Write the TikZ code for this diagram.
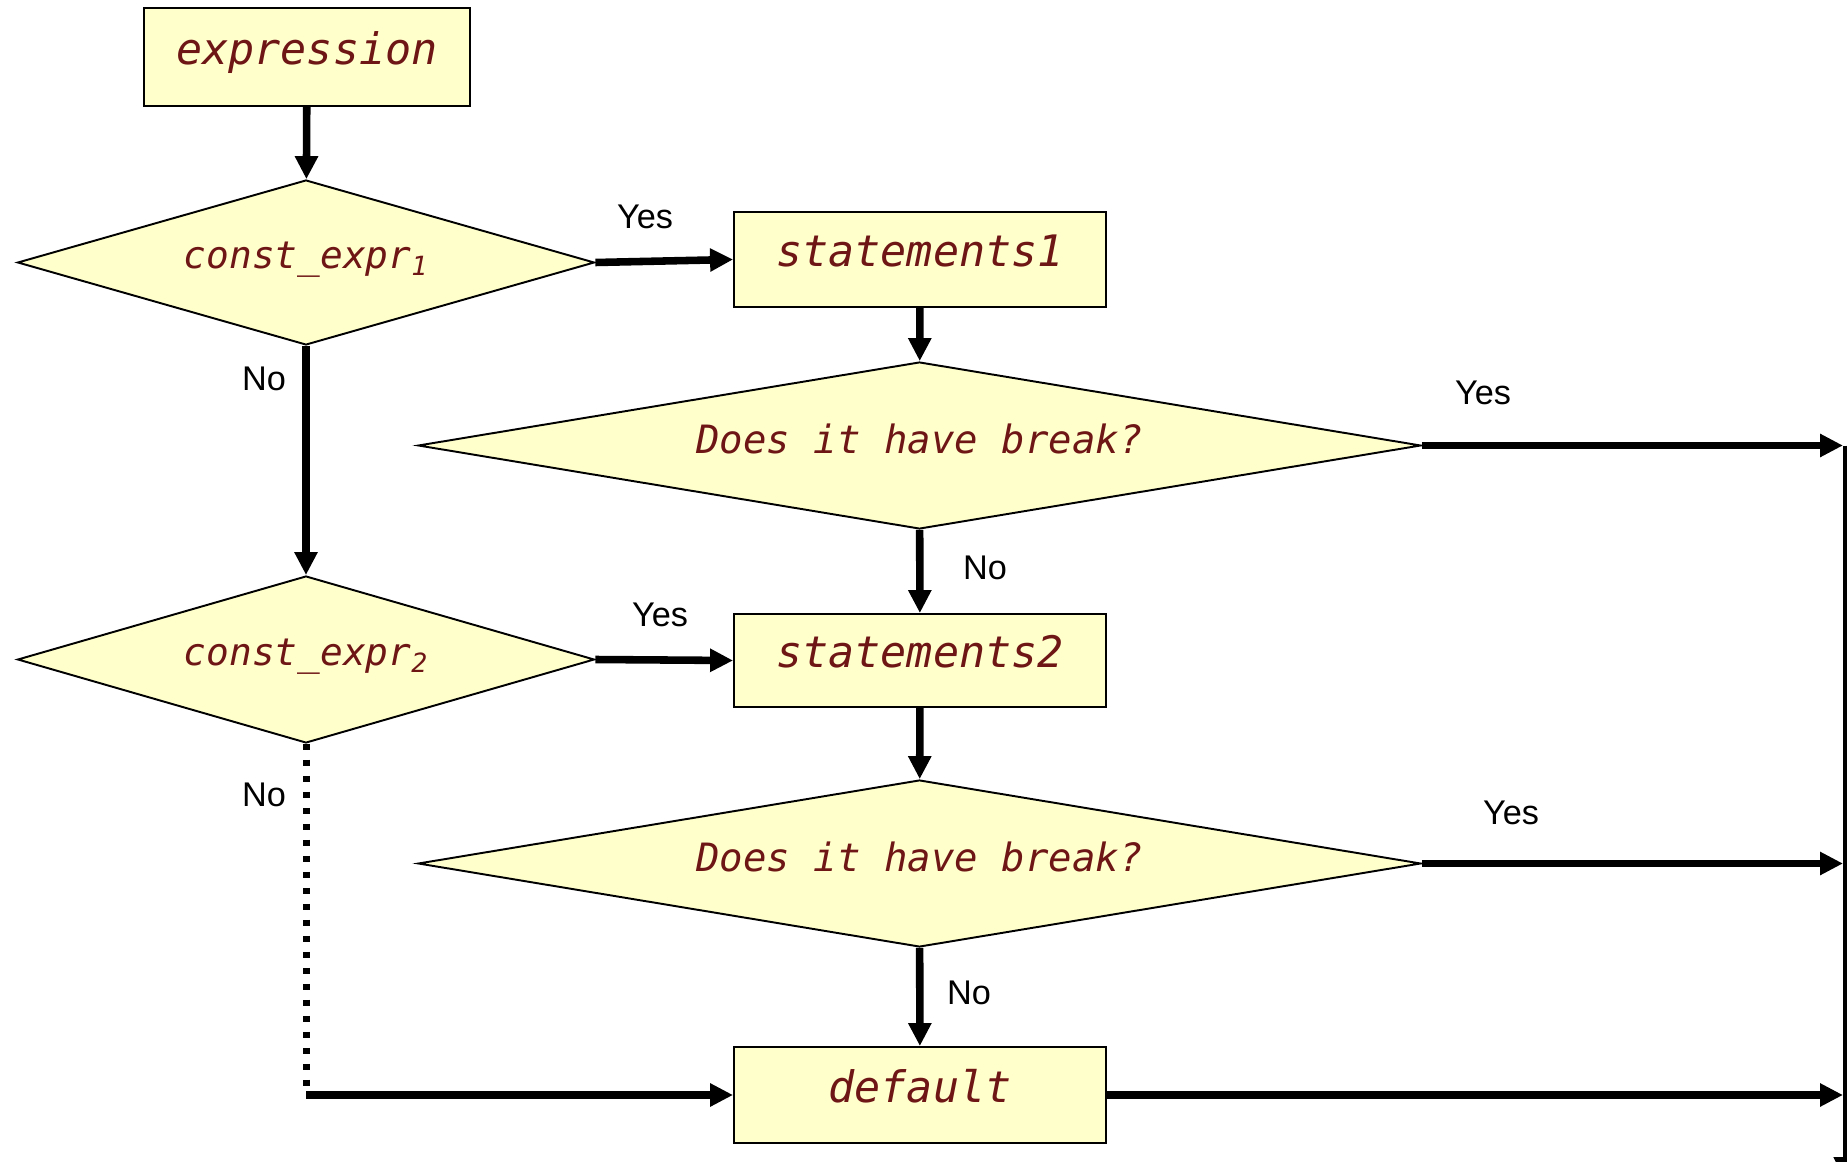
\documentclass[tikz,border=0pt]{standalone}
\usepackage{fontspec}
\setmainfont{Liberation Sans}
\newfontfamily\codefont{DejaVu Sans Mono}
\usepackage{tikz}
\usetikzlibrary{shapes,arrows.meta,calc}
\definecolor{boxfill}{RGB}{255,255,204}
\definecolor{codetext}{RGB}{110,22,22}
\tikzset{
  block/.style={
    draw,
    line width=1.1pt,
    fill=boxfill,
    text=codetext,
    shape=rectangle,
    inner sep=0pt,
    text height=16pt,
    text depth=8pt,
    minimum width=7.44cm,
    minimum height=1.9cm,
    font=\codefont\itshape\fontsize{24.7pt}{28pt}\selectfont
  },
  test/.style={
    draw,
    line width=1.1pt,
    fill=boxfill,
    text=codetext,
    shape=diamond,
    inner sep=0pt,
    aspect=6,
    text height=14pt,
    text depth=5pt,
    minimum width=20.06cm,
    minimum height=3.34cm,
    font=\codefont\itshape\fontsize{22.2pt}{25pt}\selectfont
  },
  casetest/.style={
    test,
    aspect=3.5,
    text height=12pt,
    text depth=5pt,
    minimum width=11.54cm,
    minimum height=3.3cm,
    font=\codefont\itshape\fontsize{21.5pt}{24pt}\selectfont
  },
  flow/.style={
    line width=4.3pt,
    -{Triangle[length=0.46cm,width=0.44cm]}
  },
  answer/.style={
    font=\fontsize{19.5pt}{23pt}\selectfont
  }
}

\begin{document}
\begin{tikzpicture}[x=0.02cm,y=-0.02cm]
  \useasboundingbox (0,0) rectangle (1847,1162);

  % left column: the switch value and the case tests
  \node[block, minimum width=6.52cm, minimum height=1.96cm] (expr) at (307,57) {expression};
  \node[casetest] (case1) at (306,262.5) {const\_expr\textsubscript{1}};
  \node[casetest, minimum height=3.34cm] (case2) at (306,659.5) {const\_expr\textsubscript{2}};

  % middle column: bodies and break tests
  \node[block] (stmt1) at (920,259.5) {statements1};
  \node[test] (brk1) at (919.5,445.5) {Does it have break?};
  \node[block, minimum height=1.86cm] (stmt2) at (920,660.5) {statements2};
  \node[test] (brk2) at (919.5,863.5) {Does it have break?};
  \node[block, minimum height=1.92cm] (dflt) at (920,1095) {default};

  % exit rail on the right
  \coordinate (rail) at (1843,0);
  \coordinate (railtop) at (1845,445.5);
  \coordinate (railend) at (1845,1180);
  \coordinate (corner) at (case2.south |- dflt.west);

  \draw[flow] (expr) -- (case1);
  \draw[flow] (case1.east) -- (stmt1.west);
  \draw[flow] (case1) -- (case2);
  \draw[flow] (stmt1) -- (brk1);
  \draw[flow] (brk1) -- (stmt2);
  \draw[flow] (case2.east) -- (stmt2.west);
  \draw[flow] (stmt2) -- (brk2);
  \draw[flow] (brk2) -- (dflt);
  \draw[line width=0.14cm, dash pattern=on 0.13cm off 0.19cm] (case2.south) -- (corner);
  \draw[flow] (corner) -- (dflt.west);
  \draw[flow] (brk1.east) -- (brk1.east -| rail);
  \draw[flow] (brk2.east) -- (brk2.east -| rail);
  \draw[flow] (dflt.east) -- (dflt.east -| rail);
  \draw[flow, line width=2.8pt] (railtop) -- (railend);

  % answers
  \node[answer] (yes1) at (645,217) {Yes};
  \node[answer] (no1) at (264,379) {No};
  \node[answer] (yes2) at (1483,393) {Yes};
  \node[answer] (no2) at (985,568) {No};
  \node[answer] (yes3) at (660,615) {Yes};
  \node[answer] (no3) at (264,795) {No};
  \node[answer] (yes4) at (1511,813) {Yes};
  \node[answer] (no4) at (969,993) {No};
\end{tikzpicture}
\end{document}
